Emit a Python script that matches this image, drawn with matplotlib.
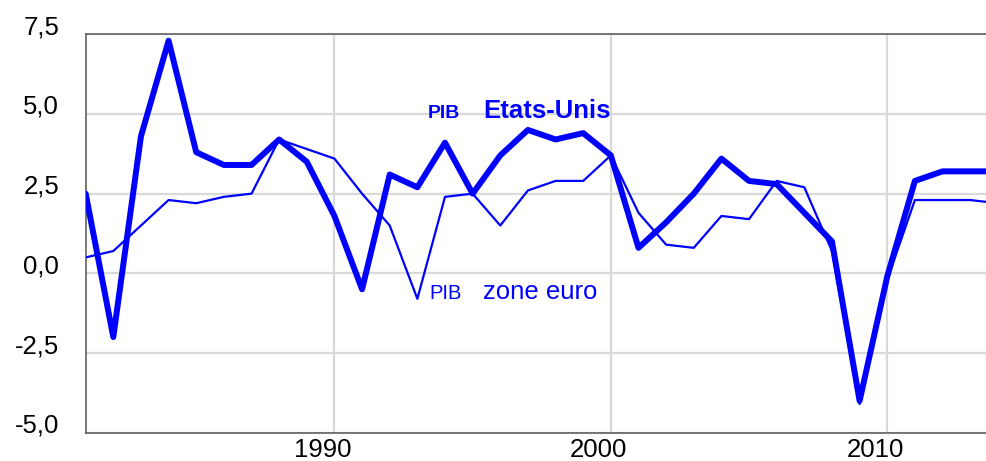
import matplotlib
matplotlib.use("Agg")
import matplotlib.pyplot as plt
import matplotlib.transforms as mtransforms

# croissance annuelle du PIB (%)
years = list(range(1981, 2015))
pib_us = [2.5, -2.0, 4.3, 7.3, 3.8, 3.4, 3.4, 4.2, 3.5, 1.8,
          -0.5, 3.1, 2.7, 4.1, 2.5, 3.7, 4.5, 4.2, 4.4, 3.7,
          0.8, 1.6, 2.5, 3.6, 2.9, 2.8, 1.9, 1.0, -4.0, -0.1,
          2.9, 3.2, 3.2, 3.2]
pib_euro = [0.5, 0.7, 1.5, 2.3, 2.2, 2.4, 2.5, 4.2, 3.9, 3.6,
            2.5, 1.5, -0.8, 2.4, 2.5, 1.5, 2.6, 2.9, 2.9, 3.7,
            1.9, 0.9, 0.8, 1.8, 1.7, 2.9, 2.7, 0.7, -4.1, -0.2,
            2.3, 2.3, 2.3, 2.2]
yticks = [-5.0, -2.5, 0.0, 2.5, 5.0, 7.5]
ytick_labels = ['-5,0', '-2,5', '0,0', '2,5', '5,0', '7,5']
xticks = [1990, 2000, 2010]

plt.rcParams['font.family'] = ['Liberation Sans', 'DejaVu Sans']
blue = '#0000FF'

fig = plt.figure(figsize=(9.87, 4.61), dpi=100)
ax = fig.add_axes([0.0868, 0.0614, 0.9135, 0.8642])

ax.plot(years, pib_euro, color=blue, linewidth=1.6, solid_joinstyle='round', zorder=3)
ax.plot(years, pib_us, color=blue, linewidth=4.3, solid_joinstyle='round',
        solid_capstyle='round', zorder=4)

ax.set_xlim(1981, 2013.62)
ax.set_ylim(-5, 7.5)

ax.set_yticks(yticks)
ax.set_yticklabels(ytick_labels)
ax.set_xticks(xticks)
ax.set_xticklabels([str(x) for x in xticks])
ax.tick_params(axis='both', length=0, labelsize=18.5, colors='black')
ax.tick_params(axis='y', pad=19)
ax.tick_params(axis='x', pad=4)
for lab in ax.get_yticklabels():
    lab.set_va('baseline')
offset = mtransforms.ScaledTranslation(-12 / 100, 0, fig.dpi_scale_trans)
for lab in ax.get_xticklabels():
    lab.set_transform(lab.get_transform() + offset)

ax.grid(True, color='#d9d9d9', linewidth=1.6)
ax.set_axisbelow(True)
for side in ['left', 'top', 'bottom']:
    ax.spines[side].set_color('#555555')
    ax.spines[side].set_linewidth(1.1)
ax.spines['right'].set_visible(False)

ax.text(1993.38, 4.87, 'PIB', color=blue, fontsize=14, fontweight='bold',
        ha='left', va='baseline')
ax.text(1995.39, 4.87, 'Etats-Unis', color=blue, fontsize=18.5, fontweight='bold',
        ha='left', va='baseline')
ax.text(1993.43, -0.81, 'PIB', color=blue, fontsize=14.5, ha='left', va='baseline')
ax.text(1995.39, -0.81, 'zone euro', color=blue, fontsize=18.5, ha='left', va='baseline')

plt.savefig('out.png', dpi=100)
